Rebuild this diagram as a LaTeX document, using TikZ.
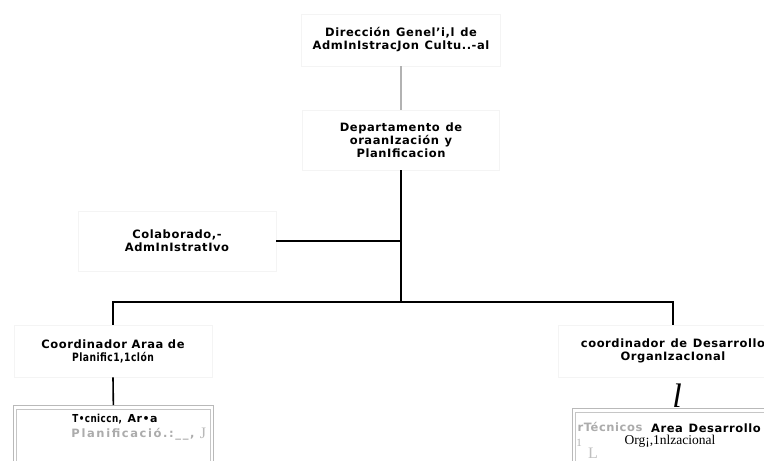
\documentclass[tikz,border=0pt]{standalone}
\usepackage{fontspec}
\setmainfont{DejaVu Sans}[LetterSpace=5]
\newfontfamily\serifff{Liberation Serif}
\usetikzlibrary{calc}
\newcommand\ws{\hspace{0.5em}}
\tikzset{
  faint/.style={draw=gray!9, line width=0.8pt},
  box/.style={faint, inner sep=0pt, align=center,
    font=\bfseries\fontsize{11.5}{13}\selectfont},
  lbl/.style={inner sep=0pt, align=center, font=\bfseries\fontsize{11.5}{13}\selectfont},
  blk/.style={draw=black, line width=1.6pt},
  grl/.style={draw=gray!60, line width=1.2pt},
  dbl/.style={draw=gray!55, line width=0.7pt, inner sep=0pt},
}
\begin{document}
\begin{tikzpicture}[x=1pt,y=-1pt]
\useasboundingbox[fill=white] (0,0) rectangle (764,461);

% upper boxes
\node[box, minimum width=199pt, minimum height=52pt] (dg) at (401,40)
  {Dirección\ws Genel'i,l\ws de\\AdmInIstracJon\ws Cultu..-al};
\node[box, minimum width=197pt, minimum height=60pt] (dp) at (401,140)
  {Departamento\ws de\\oraanIzación\ws y\\PlanIficacion};
\node[box, minimum width=198pt, minimum height=60pt] (col) at (177,241)
  {Colaborado,-\\AdmInIstratIvo};

% coordinators
\node[box, minimum width=198pt, minimum height=52pt] (cl) at (113,351)
  {Coordinador Araa de\\\scalebox{0.8}[1]{Planific1,1clón}};
\node[box, minimum width=200pt, minimum height=52pt, text width=230pt] (cr) at (673,351)
  {coordinador\ws de\ws Desarrollo\\OrganIzacIonal};

% bottom-left box
\node[dbl, minimum width=200pt, minimum height=72pt, anchor=north west] (tl) at (13,405) {};
\draw[gray!45, line width=0.6pt] ($(tl.south west)+(3,0)$) |- ($(tl.north east)+(-3,4)$) -- ($(tl.south east)+(-3,0)$);
\node[lbl, font=\bfseries\fontsize{11}{13}\selectfont] (tl1) at (115,419) {\scalebox{0.8}[1]{T•cniccn,}\ws Ar•a};
\node[lbl, text=gray!65, font=\bfseries\fontsize{11.5}{13}\selectfont\addfontfeature{LetterSpace=14}] (tl2) at (133,434) {Planificació.:\_\_,};
\node[inner sep=0pt, text=gray!55, font=\serifff\fontsize{16}{16}\selectfont] (tlj) at (203,433) {J};

% bottom-right box
\node[dbl, minimum width=200pt, minimum height=72pt, anchor=north west] (tr) at (572,408) {};
\draw[gray!45, line width=0.6pt] ($(tr.south west)+(3,0)$) |- ($(tr.north east)+(0,4)$);
\node[lbl, text=gray!65] (tr1) at (610,427) {rTécnicos};
\node[lbl] (tr2) at (706,428) {Area\ws Desarrollo};
\node[inner sep=0pt, font=\serifff\fontsize{13.5}{14}\selectfont] (tr3) at (670,441) {Org¡,1nlzacional};
\node[inner sep=0pt, text=gray!60, font=\serifff\fontsize{11}{12}\selectfont] (tr4) at (579,443) {1};
\node[inner sep=0pt, text=gray!50, font=\serifff\fontsize{16}{16}\selectfont, anchor=base] (tr5) at (593,458) {L};

% large italic l
\node[inner sep=0pt, font=\serifff\itshape\fontsize{34}{34}\selectfont] (ell) at (677,396) {l};

% connectors
\draw[grl] (dg.south) -- (dp.north);
\coordinate (bus) at (401,302);
\draw[blk] (dp.south) -- (bus);
\draw[blk] (col.east) -- (col.east -| dp.south);
\draw[blk] (cl.north) |- (bus) -| (cr.north);
\draw[blk] (cl.south) -- (tl.north);
\end{tikzpicture}
\end{document}
